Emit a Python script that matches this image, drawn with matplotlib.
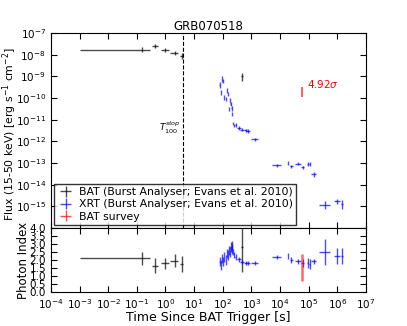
import numpy as np
import matplotlib
matplotlib.use("Agg")
import matplotlib.pyplot as plt

# ---- BAT (Burst Analyser) ----
bat_t = [0.15, 0.43, 0.96, 2.1, 3.7, 470.0]
bat_tlo = [0.001, 0.33, 0.70, 1.5, 3.3, 445.0]
bat_thi = [0.29, 0.55, 1.3, 2.8, 4.1, 495.0]
bat_flux = [1.7e-8, 2.5e-8, 1.66e-8, 1.2e-8, 8.8e-9, 1.07e-9]
bat_flux_lo = [1.3e-8, 2.0e-8, 1.3e-8, 0.95e-8, 6.5e-9, 6.3e-10]
bat_flux_hi = [2.2e-8, 3.1e-8, 2.1e-8, 1.5e-8, 1.15e-8, 1.45e-9]
bat_idx = [2.1, 1.65, 1.8, 1.95, 1.75, 2.8]
bat_idx_err = [0.38, 0.45, 0.35, 0.4, 0.5, 1.55]

# ---- XRT (Burst Analyser) ----
xrt_t = [78, 86, 96, 104, 112, 129, 140, 155, 164, 178, 188, 204, 214, 232,
         251, 281, 367, 479, 629, 774, 1330,
         7800, 19000, 25000, 42000, 63000, 93000, 110000, 150000,
         370000, 980000, 1.45e6]
xrt_tdex = [0.005, 0.005, 0.005, 0.005, 0.005, 0.005, 0.005, 0.005, 0.005,
            0.005, 0.005, 0.005, 0.005, 0.01, 0.01, 0.03, 0.06, 0.07, 0.06,
            0.07, 0.12,
            0.16, 0.01, 0.05, 0.1, 0.05, 0.02, 0.02, 0.08,
            0.19, 0.1, 0.03]
xrt_flux = [4.0e-10, 1.8e-10, 7.6e-10, 6.3e-10, 1.07e-10, 9.3e-11, 2.2e-10,
            1.55e-10, 3.2e-11, 7.6e-11, 5.4e-11, 3.3e-11, 1.86e-11, 6.5e-12,
            5.4e-12, 5.8e-12, 4.1e-12, 3.5e-12, 3.2e-12, 3.0e-12, 1.23e-12,
            7.8e-14, 9.8e-14, 7.1e-14, 9.3e-14, 6.3e-14, 9.3e-14, 9.3e-14,
            3.0e-14, 1.15e-15, 1.74e-15, 1.26e-15]
xrt_fdex = [0.12, 0.1, 0.15, 0.1, 0.1, 0.1, 0.1, 0.1, 0.1, 0.1, 0.1, 0.1,
            0.1, 0.08, 0.08, 0.08, 0.08, 0.08, 0.08, 0.08, 0.08,
            0.06, 0.1, 0.06, 0.07, 0.07, 0.1, 0.1, 0.1,
            0.2, 0.12, 0.2]
xrt_idx = [1.9, 1.7, 2.1, 1.9, 2.2, 2.0, 2.4, 2.3, 2.6, 2.5, 2.8, 2.7, 2.9,
           2.5, 2.3, 2.2, 2.05, 1.9, 1.8, 1.8, 1.8,
           2.19, 2.25, 2.0, 1.93, 1.8, 1.8, 1.75, 1.93, 2.5, 2.25, 2.25]
xrt_idx_err = [0.3, 0.3, 0.3, 0.3, 0.3, 0.3, 0.3, 0.3, 0.3, 0.3, 0.3, 0.3,
               0.3, 0.2, 0.2, 0.2, 0.15, 0.12, 0.12, 0.12, 0.12,
               0.15, 0.2, 0.2, 0.15, 0.25, 0.3, 0.3, 0.15, 0.8, 0.5, 0.5]

# ---- BAT survey ----
svy_t = [58000]
svy_flux = [1.95e-10]
svy_flux_lo = [1.15e-10]
svy_flux_hi = [3.3e-10]
svy_idx = [1.53]
svy_idx_err = [0.84]
svy_sig = "4.92$\\sigma$"

t100_stop = 4.07

plt.rcParams.update({
    "font.size": 7.5,
    "xtick.direction": "in", "ytick.direction": "in",
    "xtick.top": True, "ytick.right": True,
    "xtick.major.size": 4, "ytick.major.size": 4,
    "xtick.minor.size": 2, "ytick.minor.size": 2,
})

fig = plt.figure(figsize=(4.07, 3.26), dpi=100)
ax1 = fig.add_axes([0.125, 0.3006, 0.774, 0.598])
ax2 = fig.add_axes([0.125, 0.104, 0.774, 0.1966], sharex=ax1)

t = np.array(bat_t)
ax1.errorbar(bat_t, bat_flux,
             xerr=[t - np.array(bat_tlo), np.array(bat_thi) - t],
             yerr=[np.array(bat_flux) - np.array(bat_flux_lo),
                   np.array(bat_flux_hi) - np.array(bat_flux)],
             fmt="none", ecolor="k", alpha=0.7, lw=1, capsize=0)
ax2.errorbar(bat_t, bat_idx,
             xerr=[t - np.array(bat_tlo), np.array(bat_thi) - t],
             yerr=bat_idx_err, fmt="none", ecolor="k", alpha=0.7, lw=1,
             capsize=0)

xt = np.array(xrt_t, float)
xd = np.array(xrt_tdex)
xf = np.array(xrt_flux)
fd = np.array(xrt_fdex)
xerr = [xt - xt / 10**xd, xt * 10**xd - xt]
ax1.errorbar(xt, xf, xerr=xerr, yerr=[xf - xf / 10**fd, xf * 10**fd - xf],
             fmt="none", ecolor="b", alpha=0.7, lw=1, capsize=0)
ax2.errorbar(xt, xrt_idx, xerr=xerr, yerr=xrt_idx_err,
             fmt="none", ecolor="b", alpha=0.7, lw=1, capsize=0)

st = np.array(svy_t, float)
sf = np.array(svy_flux)
ax1.errorbar(st, sf, yerr=[sf - np.array(svy_flux_lo), np.array(svy_flux_hi) - sf],
             fmt="none", ecolor="r", alpha=0.6, lw=1.5, capsize=0)
ax2.errorbar(st, svy_idx, yerr=svy_idx_err,
             fmt="none", ecolor="r", alpha=0.6, lw=1.8, capsize=0)
ax1.text(st[0] * 1.5, sf[0] * 2.4, svy_sig, color="r", fontsize=7.5,
         va="center", ha="left")

ax1.axvline(t100_stop, color="k", ls="--", lw=0.8)
ax1.text(t100_stop * 0.8, 4.4e-12, "$T_{100}^{stop}$", ha="right",
         va="center", fontsize=6.5, family="serif")

ax1.set_xscale("log")
ax1.set_yscale("log")
ax1.set_xlim(1e-4, 1e7)
ax1.set_ylim(1e-16, 1e-7)
ax1.set_yticks([10.0**k for k in range(-15, -6)])
ax1.tick_params(labelbottom=False)
ax1.set_ylabel("Flux (15-50 keV) [erg s$^{-1}$ cm$^{-2}$]", fontsize=7.8)
ax1.yaxis.set_label_coords(-0.1, 0.48)
ax1.set_title("GRB070518", fontsize=8.5, pad=2)

h = [ax1.errorbar([], [], xerr=[], yerr=[], fmt="none", ecolor=c, alpha=0.7, lw=1)
     for c in ("k", "b", "r")]
ax1.legend(h, ["BAT (Burst Analyser; Evans et al. 2010)",
               "XRT (Burst Analyser; Evans et al. 2010)", "BAT survey"],
           loc="lower left", fontsize=7.8, frameon=True, fancybox=False,
           edgecolor="k", borderaxespad=0.3, handlelength=1.5,
           labelspacing=0.2, borderpad=0.3, handletextpad=0.5)

ax2.set_ylim(0, 4.0)
ax2.set_yticks(np.arange(0, 4.01, 0.5))
ax2.set_yticklabels([f"{v:.1f}" for v in np.arange(0, 4.01, 0.5)])
ax2.set_xticks([10.0**k for k in range(-4, 8)])
ax2.set_ylabel("Photon Index", fontsize=8.5)
ax2.yaxis.set_label_coords(-0.067, 0.5)
ax2.set_xlabel("Time Since BAT Trigger [s]", fontsize=9, labelpad=0.5)

fig.savefig("out.png", dpi=100)
